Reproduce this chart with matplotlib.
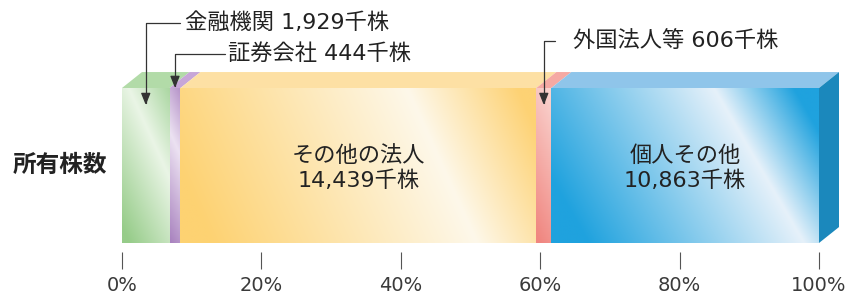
import numpy as np
import matplotlib.pyplot as plt
from matplotlib.colors import to_rgb
from matplotlib.patches import Polygon

plt.rcParams['font.family'] = ['DejaVu Sans', 'Noto Sans CJK JP']

# data (千株)
categories = ['金融機関', '証券会社', 'その他の法人', '外国法人等', '個人その他']
shares = [1929, 444, 14439, 606, 10863]
value_labels = ['1,929千株', '444千株', '14,439千株', '606千株', '10,863千株']
tick_values = [0, 20, 40, 60, 80, 100]
tick_labels = ['0%', '20%', '40%', '60%', '80%', '100%']
row_label = '所有株数'

# style
depth_x, depth_y = 2.87, 0.103          # 3D offset (x in %, y in bar heights)
top_colors = ['#b2dba8', '#c7a6d8', '#fde0a4', '#f5a9a3', '#8fc5ea']
side_color = '#1b88bc'
# diagonal gradient stops: (position along diagonal in %, colour), slope in % per bar height
front_stops = [
    [(-9, '#96cc89'), (1, '#eaf5e6'), (8, '#9dd093')],
    [(-3, '#a983bf'), (4, '#ece2f2'), (9, '#ad87c2')],
    [(3, '#fdd272'), (41, '#fef8ea'), (57, '#fdd274')],
    [(50, '#f08680'), (62, '#fad8d4')],
    [(54, '#1fa2de'), (85, '#e6f1fa'), (96.5, '#1fa2de')],
]
slopes = [10, 10, 10, 10, 12.9]
inside = [False, False, True, False, True]
callout_xy = {0: (9.0, 1.42, 0.89, 3.5), 1: (15.2, 1.22, 1.0, 2.0), 3: (64.7, 1.305, 0.89, 13.0)}


def gradient_face(ax, x0, x1, stops, slope):
    pos = [p for p, _ in stops]
    cols = [to_rgb(c) for _, c in stops]
    X, Y = np.meshgrid(np.linspace(x0, x1, 300), np.linspace(0, 1, 120))
    S = X - slope * (1 - Y)
    rgb = np.stack([np.interp(S, pos, [c[i] for c in cols]) for i in range(3)], axis=-1)
    im = ax.imshow(rgb, extent=[x0, x1, 0, 1], origin='lower', aspect='auto',
                   interpolation='bilinear', zorder=2)
    im.set_clip_on(False)


fig = plt.figure(figsize=(8.52, 2.94), dpi=100)
ax = fig.add_axes([122 / 852, 42 / 294, 697 / 852, 252 / 294])

pct = np.array(shares) / sum(shares) * 100
edges = np.concatenate([[0], np.cumsum(pct)])

for i in range(len(categories)):
    x0, x1 = edges[i], edges[i + 1]
    gradient_face(ax, x0, x1, front_stops[i], slopes[i])
    top = Polygon([(x0, 1), (x1, 1), (x1 + depth_x, 1 + depth_y), (x0 + depth_x, 1 + depth_y)],
                  closed=True, facecolor=top_colors[i], edgecolor='none', zorder=2, clip_on=False)
    ax.add_patch(top)
    if inside[i]:
        ax.text((x0 + x1) / 2, 0.484, f'{categories[i]}\n{value_labels[i]}', ha='center', va='center',
                fontsize=16, color='#222222', linespacing=1.25, zorder=4)

side = Polygon([(100, 0), (100 + depth_x, depth_y), (100 + depth_x, 1 + depth_y), (100, 1)],
               closed=True, facecolor=side_color, edgecolor='none', zorder=2, clip_on=False)
ax.add_patch(side)

for i, (tx, ty, tip_y, gap) in callout_xy.items():
    cx = (edges[i] + edges[i + 1]) / 2
    ax.annotate(f'{categories[i]} {value_labels[i]}', xy=(cx, tip_y), xytext=(tx, ty),
                ha='left', va='center', fontsize=16, color='#222222', zorder=5,
                annotation_clip=False,
                arrowprops=dict(arrowstyle='-|>,head_length=0.45,head_width=0.18', color='#333333',
                                lw=0.9, connectionstyle='angle,angleA=0,angleB=90,rad=0',
                                relpos=(0, 0.5), patchA=None, shrinkA=gap, shrinkB=0))

fig.text(60 / 852, 1 - 165 / 294, row_label, ha='center', va='center', fontsize=17,
         fontweight='bold', color='#222222', family='Noto Sans CJK JP')

ax.set_xlim(0, 100)
ax.set_ylim(-9 / 155, 1 + 88 / 155)
for s in ax.spines.values():
    s.set_visible(False)
ax.set_yticks([])
ax.set_xticks(tick_values, tick_labels)
ax.tick_params(axis='x', length=12, width=0.8, color='#555555', pad=5,
               labelsize=14, labelcolor='#3a3a3a')

fig.savefig('out.png', dpi=100)
